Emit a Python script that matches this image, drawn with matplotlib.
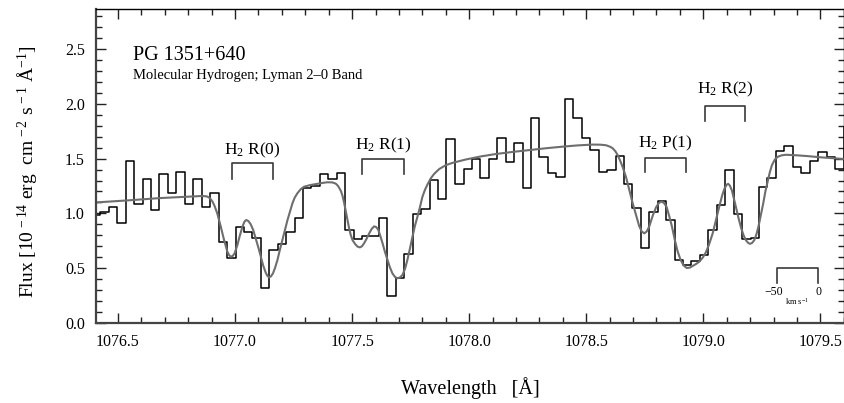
import matplotlib
matplotlib.use("Agg")
import matplotlib.pyplot as plt
from matplotlib.ticker import MultipleLocator, FormatStrFormatter

# ── Fonts: Times-like serif everywhere, also inside mathtext ───────────────
plt.rcParams["font.family"] = ["Liberation Serif", "DejaVu Serif"]
plt.rcParams["mathtext.fontset"] = "custom"
plt.rcParams["mathtext.rm"] = "Liberation Serif"
plt.rcParams["mathtext.it"] = "Liberation Serif:italic"
plt.rcParams["mathtext.bf"] = "Liberation Serif:bold"

# ── Observed spectrum (bin centres, Å) and flux (1e-14 cgs) ────────────────
wave = [
    1076.407, 1076.443, 1076.479, 1076.515, 1076.551, 1076.587, 1076.623, 1076.659,
    1076.695, 1076.731, 1076.767, 1076.803, 1076.839, 1076.875, 1076.911, 1076.948,
    1076.984, 1077.020, 1077.056, 1077.092, 1077.128, 1077.164, 1077.200, 1077.236,
    1077.272, 1077.308, 1077.344, 1077.380, 1077.416, 1077.453, 1077.489, 1077.525,
    1077.561, 1077.597, 1077.633, 1077.669, 1077.705, 1077.741, 1077.777, 1077.813,
    1077.849, 1077.885, 1077.921, 1077.958, 1077.994, 1078.030, 1078.066, 1078.102,
    1078.138, 1078.174, 1078.210, 1078.246, 1078.282, 1078.318, 1078.354, 1078.390,
    1078.426, 1078.462, 1078.499, 1078.535, 1078.571, 1078.607, 1078.643, 1078.679,
    1078.715, 1078.751, 1078.787, 1078.823, 1078.859, 1078.895, 1078.931, 1078.967,
    1079.004, 1079.040, 1079.076, 1079.112, 1079.148, 1079.184, 1079.220, 1079.256,
    1079.292, 1079.328, 1079.364, 1079.400, 1079.436, 1079.472, 1079.509, 1079.545,
    1079.581, 1079.617,
]
flux = [
    0.985, 1.016, 1.061, 0.910, 1.481, 1.083, 1.314, 1.031,
    1.357, 1.189, 1.381, 1.083, 1.314, 1.055, 1.189, 0.742,
    0.592, 0.875, 0.833, 0.772, 0.318, 0.668, 0.721, 0.833,
    0.958, 1.230, 1.250, 1.357, 1.312, 1.366, 0.849, 0.770,
    0.795, 0.795, 0.955, 0.250, 0.408, 0.628, 0.990, 1.037,
    1.308, 1.129, 1.676, 1.270, 1.402, 1.496, 1.320, 1.496,
    1.685, 1.472, 1.639, 1.235, 1.873, 1.517, 1.366, 1.329,
    2.041, 1.873, 1.691, 1.578, 1.380, 1.393, 1.520, 1.268,
    1.046, 0.684, 1.013, 1.115, 0.940, 0.578, 0.533, 0.565,
    0.625, 0.852, 1.073, 1.396, 0.995, 0.766, 0.775, 1.238,
    1.320, 1.572, 1.618, 1.420, 1.371, 1.481, 1.563, 1.517,
    1.402, 1.785,
]

# ── Model fit ──────────────────────────────────────────────────────────────
model_wave = [
    1076.406, 1076.550, 1076.680, 1076.800, 1076.860, 1076.880, 1076.892, 1076.903,
    1076.912, 1076.924, 1076.939, 1076.953, 1076.967, 1076.975, 1076.982, 1076.990,
    1076.998, 1077.010, 1077.020, 1077.031, 1077.040, 1077.048, 1077.057, 1077.067,
    1077.078, 1077.088, 1077.100, 1077.110, 1077.120, 1077.131, 1077.138, 1077.145,
    1077.153, 1077.162, 1077.171, 1077.181, 1077.191, 1077.202, 1077.213, 1077.224,
    1077.235, 1077.245, 1077.255, 1077.266, 1077.280, 1077.295, 1077.320, 1077.345,
    1077.370, 1077.394, 1077.415, 1077.430, 1077.440, 1077.452, 1077.459, 1077.466,
    1077.473, 1077.480, 1077.487, 1077.494, 1077.502, 1077.513, 1077.523, 1077.533,
    1077.542, 1077.551, 1077.562, 1077.573, 1077.584, 1077.594, 1077.603, 1077.612,
    1077.621, 1077.630, 1077.640, 1077.651, 1077.661, 1077.672, 1077.683, 1077.694,
    1077.704, 1077.715, 1077.726, 1077.736, 1077.747, 1077.758, 1077.768, 1077.779,
    1077.790, 1077.800, 1077.811, 1077.822, 1077.836, 1077.850, 1077.872, 1077.900,
    1077.930, 1077.986, 1078.050, 1078.114, 1078.190, 1078.256, 1078.330, 1078.399,
    1078.460, 1078.527, 1078.560, 1078.584, 1078.600, 1078.612, 1078.624, 1078.634,
    1078.645, 1078.655, 1078.670, 1078.684, 1078.698, 1078.712, 1078.726, 1078.737,
    1078.748, 1078.758, 1078.769, 1078.784, 1078.798, 1078.810, 1078.821, 1078.832,
    1078.843, 1078.855, 1078.866, 1078.878, 1078.890, 1078.903, 1078.916, 1078.929,
    1078.942, 1078.954, 1078.968, 1078.983, 1078.997, 1079.011, 1079.025, 1079.040,
    1079.054, 1079.068, 1079.080, 1079.090, 1079.100, 1079.106, 1079.113, 1079.122,
    1079.130, 1079.139, 1079.150, 1079.161, 1079.172, 1079.182, 1079.192, 1079.199,
    1079.208, 1079.218, 1079.227, 1079.236, 1079.246, 1079.256, 1079.265, 1079.275,
    1079.284, 1079.293, 1079.305, 1079.318, 1079.335, 1079.353, 1079.400, 1079.450,
    1079.500, 1079.550, 1079.603,
]
model_flux = [
    1.100, 1.120, 1.140, 1.153, 1.159, 1.155, 1.140, 1.110,
    1.070, 1.000, 0.879, 0.757, 0.651, 0.618, 0.605, 0.612,
    0.635, 0.712, 0.795, 0.875, 0.925, 0.940, 0.930, 0.900,
    0.845, 0.773, 0.685, 0.605, 0.525, 0.459, 0.430, 0.417,
    0.425, 0.453, 0.505, 0.575, 0.665, 0.757, 0.850, 0.940,
    1.020, 1.092, 1.145, 1.183, 1.220, 1.244, 1.258, 1.268,
    1.277, 1.284, 1.283, 1.272, 1.250, 1.205, 1.160, 1.095,
    1.020, 0.940, 0.865, 0.803, 0.755, 0.720, 0.697, 0.690,
    0.700, 0.727, 0.770, 0.818, 0.860, 0.882, 0.875, 0.849,
    0.790, 0.727, 0.650, 0.575, 0.510, 0.453, 0.420, 0.408,
    0.415, 0.438, 0.495, 0.575, 0.680, 0.790, 0.885, 0.970,
    1.060, 1.150, 1.215, 1.265, 1.320, 1.360, 1.405, 1.440,
    1.462, 1.492, 1.520, 1.542, 1.562, 1.578, 1.595, 1.609,
    1.620, 1.628, 1.627, 1.622, 1.610, 1.596, 1.568, 1.533,
    1.480, 1.426, 1.330, 1.214, 1.095, 0.990, 0.885, 0.835,
    0.818, 0.835, 0.880, 0.980, 1.055, 1.095, 1.108, 1.095,
    1.060, 0.970, 0.880, 0.760, 0.655, 0.575, 0.525, 0.502,
    0.505, 0.520, 0.537, 0.560, 0.595, 0.645, 0.720, 0.818,
    0.940, 1.061, 1.160, 1.225, 1.262, 1.270, 1.255, 1.210,
    1.140, 1.061, 0.960, 0.870, 0.800, 0.755, 0.730, 0.722,
    0.730, 0.757, 0.810, 0.885, 0.990, 1.092, 1.200, 1.290,
    1.375, 1.440, 1.490, 1.517, 1.530, 1.535, 1.530, 1.522,
    1.512, 1.504, 1.496,
]

# ── Line identifications: bracket span, bracket top, leg bottom, label ─────
line_labels = [r"H$_2$ R(0)", r"H$_2$ R(1)", r"H$_2$ P(1)", r"H$_2$ R(2)"]
line_lo     = [1076.986, 1077.544, 1078.752, 1079.006]
line_hi     = [1077.162, 1077.722, 1078.926, 1079.180]
line_top    = [1.457, 1.494, 1.508, 1.983]
line_leg    = [1.314, 1.357, 1.380, 1.846]
label_y     = [1.540, 1.580, 1.600, 2.095]

# ── Velocity scale bar (−50 … 0 km/s) ──────────────────────────────────────
vbar_lo, vbar_hi = 1079.313, 1079.491
vbar_top, vbar_leg = 0.499, 0.362
vbar_ticks = ["\u221250", "0"]


def main():
    fig = plt.figure(figsize=(8.45, 4.03), dpi=100)
    ax = fig.add_axes([96 / 845, 1 - 323 / 403, 748.5 / 845, 314 / 403])

    # spectrum + fit
    ax.step(wave, flux, where="mid", color="black", lw=1.1)
    ax.plot(model_wave, model_flux, color="#6e6e6e", lw=1.5)

    # H2 brackets
    for lab, lo, hi, top, leg, ly in zip(line_labels, line_lo, line_hi,
                                         line_top, line_leg, label_y):
        ax.plot([lo, lo, hi, hi], [leg, top, top, leg], color="#3a3a3a", lw=1.2)
        ax.text((lo + hi) / 2, ly, lab, ha="center", va="baseline", fontsize=12.5)

    # velocity scale
    ax.plot([vbar_lo, vbar_lo, vbar_hi, vbar_hi],
            [vbar_leg, vbar_top, vbar_top, vbar_leg], color="#3a3a3a", lw=1.2)
    ax.text(vbar_lo - 0.012, 0.283, vbar_ticks[0], ha="center", va="center", fontsize=8.5)
    ax.text(vbar_hi, 0.283, vbar_ticks[1], ha="center", va="center", fontsize=8.5)
    ax.text((vbar_lo + vbar_hi) / 2, 0.196, r"km s$^{-1}$", ha="center",
            va="center", fontsize=6)

    # titles inside the frame
    ax.text(0.049, 0.8376, "PG 1351+640", transform=ax.transAxes,
            fontsize=14.5, va="baseline")
    ax.text(0.049, 0.7755, "Molecular Hydrogen; Lyman 2\u20130 Band",
            transform=ax.transAxes, fontsize=10.5, va="baseline")

    # axes
    ax.set_xlim(1076.406, 1079.603)
    ax.set_ylim(0, 2.865)
    ax.xaxis.set_major_locator(MultipleLocator(0.5))
    ax.xaxis.set_minor_locator(MultipleLocator(0.1))
    ax.yaxis.set_major_locator(MultipleLocator(0.5))
    ax.yaxis.set_minor_locator(MultipleLocator(0.1))
    ax.xaxis.set_major_formatter(FormatStrFormatter("%.1f"))
    ax.yaxis.set_major_formatter(FormatStrFormatter("%.1f"))
    ax.tick_params(which="both", direction="in", top=True, right=True,
                   labelsize=11.5, width=1.0, color="#222222")
    ax.tick_params(which="major", length=7.5, pad=8)
    ax.tick_params(which="minor", length=4.3)
    for side in ["left", "bottom"]:
        ax.spines[side].set_linewidth(1.6)
        ax.spines[side].set_color("#444444")
    for side in ["top", "right"]:
        ax.spines[side].set_linewidth(1.0)

    fig.text(470 / 845, 1 - 388 / 403, "Wavelength   [\u00c5]",
             ha="center", va="center", fontsize=14.5)
    fig.text(28 / 845, 1 - 172 / 403,
             r"Flux [10$^{\,-14}$ erg  cm$^{\,-2}$ s$^{\,-1}$ $\mathrm{\AA}^{-1}$]",
             rotation=90, ha="center", va="center", fontsize=14)

    fig.savefig("out.png", dpi=100)
    plt.close(fig)


if __name__ == "__main__":
    main()
